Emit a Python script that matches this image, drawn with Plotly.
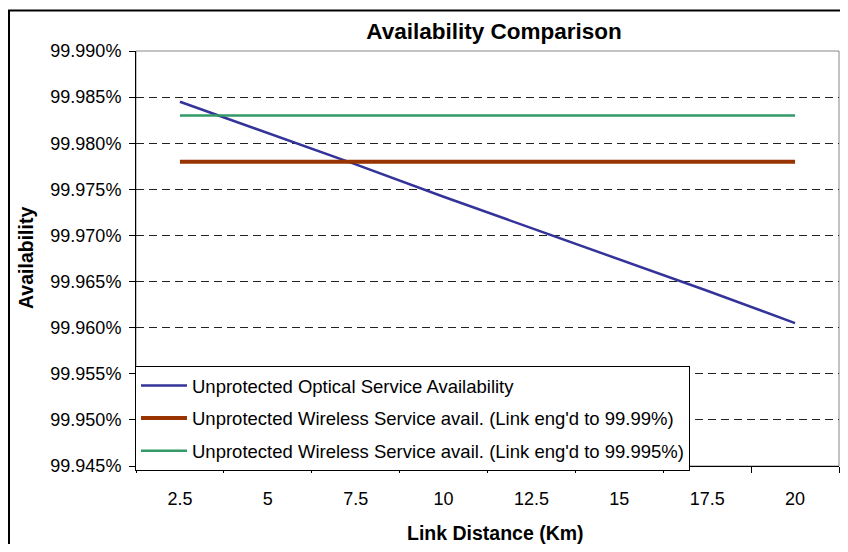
import plotly.graph_objects as go

distances = ["2.5", "5", "7.5", "10", "12.5", "15", "17.5", "20"]
optical = [99.9845, 99.9811, 99.9777, 99.9742, 99.9708, 99.9674, 99.9640, 99.9605]
wireless_9999 = [99.978] * 8
wireless_99995 = [99.983] * 8

names = [
    "Unprotected Optical Service Availability",
    "Unprotected Wireless Service avail. (Link eng'd to 99.99%)",
    "Unprotected Wireless Service avail. (Link eng'd to 99.995%)",
]
y_ticks = [99.945, 99.950, 99.955, 99.960, 99.965, 99.970, 99.975, 99.980, 99.985, 99.990]

FONT = "Liberation Sans, Arial, sans-serif"
OFF = 8  # browser body margin
W, H = 832, 536
L, R, T, B = 128, 1, 43, 78
pw, ph = W - L - R, H - T - B


def px_x(p):  # reference pixel -> paper x
    return (p - OFF - L) / pw


def px_y(p):  # reference pixel -> paper y
    return (H - B - (p - OFF)) / ph


fig = go.Figure()
fig.add_trace(go.Scatter(x=distances, y=optical, mode="lines", name=names[0],
                         legendgroup="a", line=dict(color="#333399", width=2.5)))
fig.add_trace(go.Scatter(x=distances, y=wireless_9999, mode="lines", name=names[1],
                         legendgroup="b", line=dict(color="#993300", width=4)))
fig.add_trace(go.Scatter(x=distances, y=wireless_99995, mode="lines", name=names[2],
                         legendgroup="c", line=dict(color="#339966", width=2.5)))

fig.update_layout(
    width=W, height=H,
    margin=dict(l=L, r=R, t=T, b=B, pad=0),
    paper_bgcolor="white", plot_bgcolor="white",
    font=dict(family=FONT, size=18, color="black"),
    title=dict(text="<b>Availability Comparison</b>", x=px_x(494), xref="paper",
               xanchor="center", y=1 - (31 - OFF) / H, yref="container",
               yanchor="middle", font=dict(size=22.5, family=FONT, color="black")),
    xaxis=dict(type="category", range=[-0.5, 7.5], showgrid=False,
               showline=True, linecolor="black", linewidth=1,
               ticks="outside", tickson="boundaries", ticklen=6, tickcolor="black",
               tickfont=dict(size=18), ticklabelstandoff=16, zeroline=False),
    yaxis=dict(range=[99.945, 99.990], tickvals=y_ticks,
               ticktext=[f"{v:.3f}%" for v in y_ticks],
               showgrid=True, gridcolor="#222222", gridwidth=1, griddash="8px,5px",
               showline=True, linecolor="black", linewidth=1,
               ticks="outside", ticklen=6, tickcolor="black",
               tickfont=dict(size=18), ticklabelstandoff=4, zeroline=False),
    legend=dict(x=px_x(135), y=px_y(366), xanchor="left", yanchor="top",
                bgcolor="white", bordercolor="black", borderwidth=1,
                font=dict(size=18.5, family=FONT), tracegroupgap=5.5,
                itemwidth=46, traceorder="grouped"),
    showlegend=True,
)

# plot frame (top/right gray) and outer chart border
fig.add_shape(type="rect", xref="paper", yref="paper", x0=0, x1=1, y0=0, y1=1,
              line=dict(color="#888888", width=1), layer="below")
fig.add_shape(type="rect", xref="paper", yref="paper",
              x0=px_x(9), x1=px_x(860), y0=px_y(570), y1=px_y(10.5),
              line=dict(color="black", width=2), layer="above")

fig.add_annotation(text="<b>Link Distance (Km)</b>", xref="paper", yref="paper",
                   x=px_x(495), y=px_y(533), showarrow=False,
                   xanchor="center", yanchor="middle", font=dict(size=19.5, family=FONT))
fig.add_annotation(text="<b>Availability</b>", xref="paper", yref="paper",
                   x=px_x(26), y=px_y(258), showarrow=False, textangle=-90,
                   xanchor="center", yanchor="middle", font=dict(size=19.5, family=FONT))

fig.write_html("out.html")
